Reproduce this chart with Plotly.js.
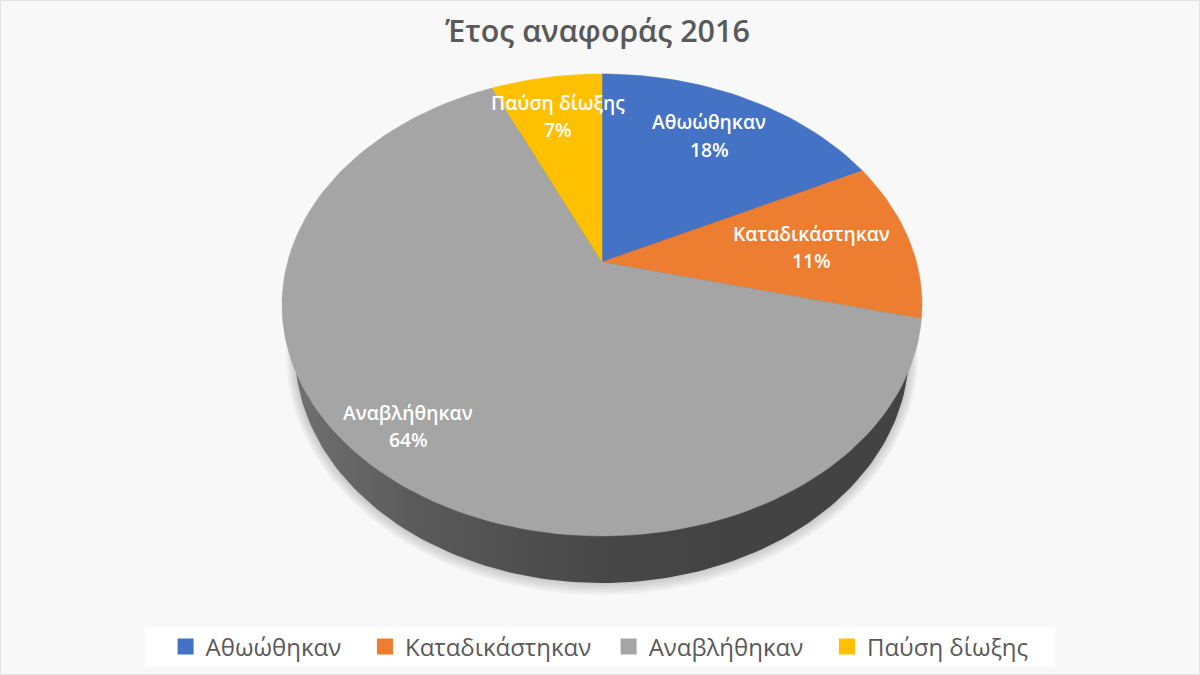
<!DOCTYPE html>
<html><head><meta charset="utf-8">
<script src="https://cdn.plot.ly/plotly-3.0.1.min.js"></script>
<style>html,body{margin:0;padding:0;background:#f8f8f8}#chart{width:1200px;height:675px}</style>
</head><body><div id="chart"></div>
<script>
const categories = ["Αθωώθηκαν", "Καταδικάστηκαν", "Αναβλήθηκαν", "Παύση δίωξης"];
const shares = [17.7, 11.2, 64.4, 6.7];
const colors = ["#4472C4", "#ED7D31", "#A5A5A5", "#FFC000"];
const labelX = [709, 811, 408, 558];
const nameY = [121, 233, 412, 102];
const pctY = [149, 260, 439, 129];
const legendPad = [3, 2, 3, 0];

// Perspective view of the pie's top face, in page pixels
const cx = 602, cy = 262, A = 314.4, B = 223, C = 0.186;
function project(share) {
  const t = share / 100 * 2 * Math.PI;
  const u = Math.sin(t), v = Math.cos(t), w = 1 + C * v;
  return [cx + A * u / w, cy - B * v / w];
}
function ellipse(x0, y0, a, b) {
  const xs = [], ys = [];
  for (let i = 0; i <= 240; i++) {
    const t = i / 240 * 2 * Math.PI;
    xs.push(x0 + a * Math.cos(t)); ys.push(y0 + b * Math.sin(t));
  }
  return [xs, ys];
}
const traces = [];
// soft shadow
[9, 7, 5, 3, 1].forEach(k => {
  const e = ellipse(cx, 352 + k * 0.3, 307 + k, 231 + k);
  traces.push({x: e[0], y: e[1], type: "scatter", mode: "lines", fill: "toself",
    fillcolor: "rgba(0,0,0,0.04)", line: {width: 0}, hoverinfo: "skip", showlegend: false});
});
// side wall
const wall = ellipse(cx, 352, 307, 231);
traces.push({x: wall[0], y: wall[1], type: "scatter", mode: "lines", fill: "toself",
  fillcolor: "#484848",
  fillgradient: {type: "horizontal", colorscale: [[0, "#707070"], [0.2, "#5a5a5a"], [0.5, "#474747"], [0.7, "#434343"], [1, "#434343"]]},
  line: {width: 0}, hoverinfo: "skip", showlegend: false});
// slices
let running = 0;
shares.forEach((s, i) => {
  const xs = [cx], ys = [cy];
  const steps = Math.ceil(s * 2);
  for (let j = 0; j <= steps; j++) {
    const p = project(running + s * j / steps);
    xs.push(p[0]); ys.push(p[1]);
  }
  xs.push(cx); ys.push(cy);
  running += s;
  traces.push({x: xs, y: ys, type: "scatter", mode: "lines", fill: "toself",
    fillcolor: colors[i], line: {width: 0.5, color: colors[i]}, name: categories[i],
    text: categories[i] + ": " + Math.round(s) + "%", hoverinfo: "text", showlegend: false});
});
// legend entries
categories.forEach((c, i) => {
  traces.push({x: [null], y: [null], type: "scatter", mode: "markers",
    name: c + "\u00a0".repeat(legendPad[i]),
    marker: {symbol: "square", size: 16, color: colors[i]}, hoverinfo: "skip"});
});
const labelFont = {size: 19.3, color: "#ffffff", family: "'Open Sans', sans-serif", weight: 600};
const annotations = [];
categories.forEach((c, i) => {
  annotations.push({x: labelX[i], y: nameY[i], xref: "x", yref: "y", showarrow: false, text: c, font: labelFont});
  annotations.push({x: labelX[i], y: pctY[i], xref: "x", yref: "y", showarrow: false, text: Math.round(shares[i]) + "%", font: labelFont});
});
const layout = {
  width: 1200, height: 675, margin: {l: 0, r: 0, t: 0, b: 0},
  paper_bgcolor: "#f8f8f8", plot_bgcolor: "rgba(0,0,0,0)",
  font: {family: "'Open Sans', sans-serif"},
  title: {text: "Έτος αναφοράς 2016", font: {size: 30.5, color: "#595959", family: "'Open Sans', sans-serif", weight: 600},
    x: 0.498, xanchor: "center", y: 0.953, yanchor: "middle"},
  xaxis: {range: [0, 1200], visible: false, fixedrange: true},
  yaxis: {range: [675, 0], visible: false, fixedrange: true},
  showlegend: true,
  legend: {orientation: "h", x: 0.138, xanchor: "left", y: 0.0415, yanchor: "middle",
    bgcolor: "rgba(0,0,0,0)", font: {size: 24, color: "#595959"}, itemclick: false, itemdoubleclick: false},
  shapes: [
    {type: "rect", xref: "x", yref: "y", x0: 145, x1: 1055, y0: 627, y1: 667, fillcolor: "#ffffff", line: {width: 0}, layer: "below"},
    {type: "rect", xref: "x", yref: "y", x0: 0.5, x1: 1199.5, y0: 0.5, y1: 674.5, fillcolor: "rgba(0,0,0,0)", line: {width: 1, color: "#e2e2e2"}, layer: "below"}
  ],
  annotations: annotations
};
Plotly.newPlot("chart", traces, layout, {displayModeBar: false});
</script></body></html>
